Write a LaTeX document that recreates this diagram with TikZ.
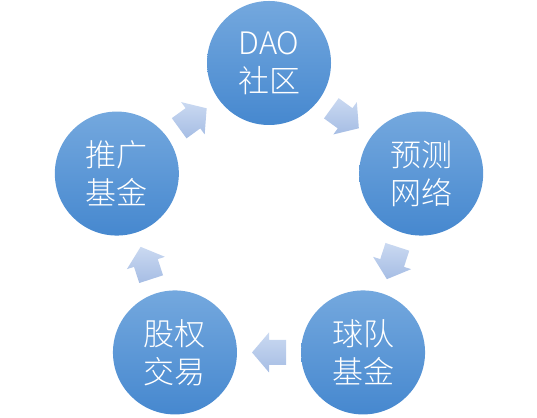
\documentclass[tikz,border=0pt]{standalone}
\usepackage{fontspec}
\newfontfamily\cjk{Noto Sans CJK SC Light}
\usetikzlibrary{calc}
\definecolor{ctop}{RGB}{116,168,222}
\definecolor{cbot}{RGB}{70,136,207}
\definecolor{atop}{RGB}{202,217,241}
\definecolor{abot}{RGB}{166,189,228}
\tikzset{
 bubble/.style={circle, minimum size=124pt, inner sep=0pt, top color=ctop, bottom color=cbot, draw=none, text=white, align=center, font=\cjk\fontsize{31}{38}\selectfont},
 flowfill/.style={top color=atop, bottom color=abot, draw=none},
}
% #1,#2: node names; #3: direction angle
\newcommand\myflowarrow[3]{%
  \coordinate (m) at ($(#1)!0.5!(#2)$);
  \path[flowfill] ($(m)+(#3:17)$) -- ($(m)+(#3+90:20)$) -- ($(m)+(#3+90:12.5)$)
    -- ($(m)+(#3+90:12.5)+(#3+180:17)$) -- ($(m)+(#3-90:12.5)+(#3+180:17)$)
    -- ($(m)+(#3-90:12.5)$) -- ($(m)+(#3-90:20)$) -- cycle;
}
\begin{document}
\begin{tikzpicture}[x=1pt,y=1pt]
\useasboundingbox (0,0) rectangle (537,417);
\coordinate (c) at (269,194);
\node[bubble] (dao) at ($(c)+(90:160)$) {DAO\\社区};
\node[bubble] (yc) at ($(c)+(18:160)$) {预测\\网络};
\node[bubble] (qd) at ($(c)+(-54:160)$) {球队\\基金};
\node[bubble] (gq) at ($(c)+(-126:160)$) {股权\\交易};
\node[bubble] (tg) at ($(c)+(162:160)$) {推广\\基金};
\myflowarrow{dao}{yc}{-36}
\myflowarrow{yc}{qd}{-108}
\myflowarrow{qd}{gq}{180}
\myflowarrow{gq}{tg}{108}
\myflowarrow{tg}{dao}{36}
\end{tikzpicture}
\end{document}
